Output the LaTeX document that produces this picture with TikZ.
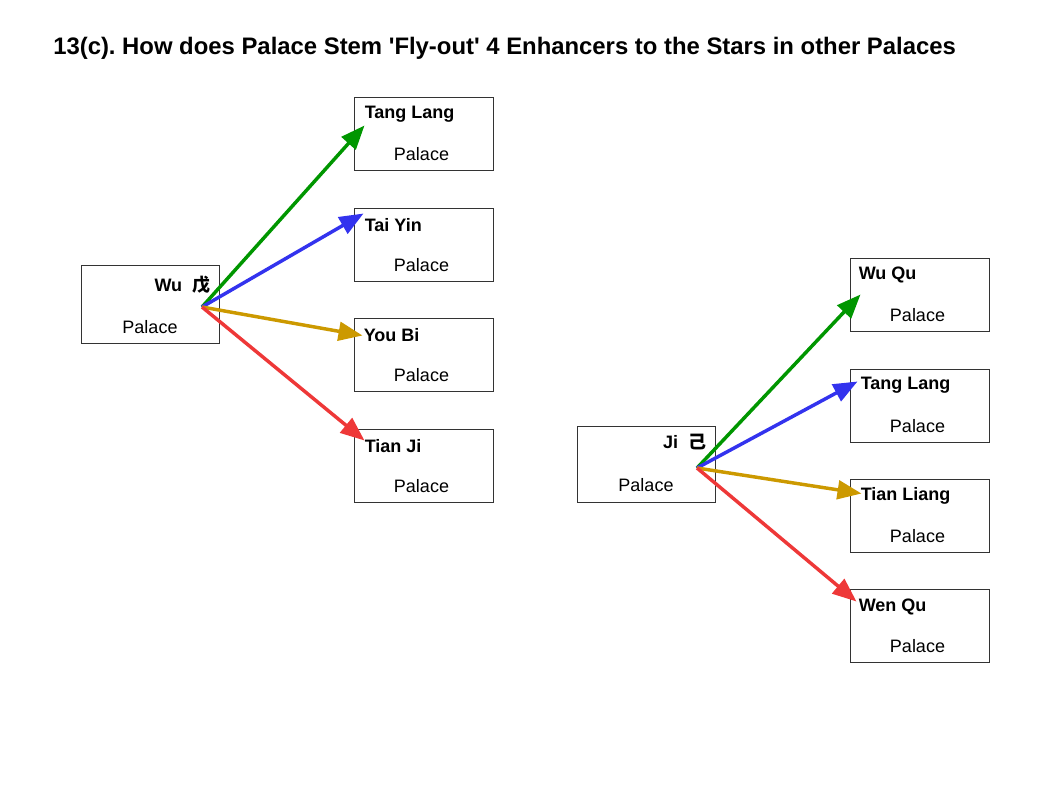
\documentclass[tikz,border=0pt]{standalone}
\usepackage{fontspec}
\setmainfont{Liberation Sans}
\newfontfamily\cjk{Noto Sans CJK SC}
\usetikzlibrary{arrows.meta,calc}
\definecolor{flygreen}{RGB}{0,150,0}
\definecolor{flyblue}{RGB}{51,51,238}
\definecolor{flygold}{RGB}{204,153,0}
\definecolor{flyred}{RGB}{238,56,56}
\frenchspacing
\begin{document}
\begin{tikzpicture}[x=0.75pt,y=-0.75pt,
    palace/.style={draw=black!80,line width=0.75pt,minimum width=104.25pt,minimum height=54.75pt,inner sep=0pt},
    stem/.style={draw=black!80,line width=0.75pt,minimum width=103.5pt,inner sep=0pt},
    star/.style={anchor=west,inner sep=0pt,font=\bfseries\fontsize{13.5}{16}\selectfont},
    stemname/.style={anchor=east,inner sep=0pt,font=\bfseries\fontsize{13.5}{16}\selectfont},
    where/.style={inner sep=0pt,font=\fontsize{13.5}{16}\selectfont},
    fly/.style={line width=2.6pt,-{Triangle[length=18pt,width=14pt]}}]
\useasboundingbox (0,0) rectangle (1058,794);
\node[anchor=west,inner sep=0pt,font=\bfseries\fontsize{17.9}{21}\selectfont] (title) at (53,48)
  {13(c). How does Palace Stem \textquotesingle Fly-out\textquotesingle\ 4 Enhancers to the Stars in other Palaces};
% left stem
\node[stem,minimum height=58.5pt] (wu) at (150,304) {};
\node[stemname] (wu-name) at ($(wu.north east)+(-9,20)$) {Wu\ \ {\cjk 戊}};
\node[where] (wu-pal) at ($(wu.south)+(0,-16)$) {Palace};
\coordinate (wu-out) at (202,307);
% left stars
\node[palace] (tanglang1) at (423.5,133.5) {};
\node[star] (tanglang1-name) at ($(tanglang1.north west)+(11,18)$) {Tang Lang};
\node[where] (tanglang1-pal) at ($(tanglang1.south)+(-2,-16)$) {Palace};
\node[palace] (taiyin) at (423.5,244.5) {};
\node[star] (taiyin-name) at ($(taiyin.north west)+(11,18)$) {Tai Yin};
\node[where] (taiyin-pal) at ($(taiyin.south)+(-2,-16)$) {Palace};
\node[palace] (youbi) at (423.5,354.5) {};
\node[star] (youbi-name) at ($(youbi.north west)+(10,18)$) {You Bi};
\node[where] (youbi-pal) at ($(youbi.south)+(-2,-16)$) {Palace};
\node[palace] (tianji) at (423.5,465.5) {};
\node[star] (tianji-name) at ($(tianji.north west)+(11,18)$) {Tian Ji};
\node[where] (tianji-pal) at ($(tianji.south)+(-2,-16)$) {Palace};
\draw[fly,flygreen] (wu-out) -- ($(tanglang1.north west)+(11,29)$);
\draw[fly,flyblue] (wu-out) -- ($(taiyin.north west)+(10,6)$);
\draw[fly,flygold] (wu-out) -- ($(youbi.north west)+(9,18)$);
\draw[fly,flyred] (wu-out) -- ($(tianji.north west)+(11,12)$);
% right stem
\node[stem,minimum height=57pt] (ji) at (646,464) {};
\node[stemname] (ji-name) at ($(ji.north east)+(-9,17)$) {Ji\ \ {\cjk 己}};
\node[where] (ji-pal) at ($(ji.south)+(0,-17)$) {Palace};
\coordinate (ji-out) at (697,468);
% right stars
\node[palace] (wuqu) at (919.5,294.5) {};
\node[star] (wuqu-name) at ($(wuqu.north west)+(9,17)$) {Wu Qu};
\node[where] (wuqu-pal) at ($(wuqu.south)+(-2,-16)$) {Palace};
\node[palace] (tanglang2) at (919.5,405.5) {};
\node[star] (tanglang2-name) at ($(tanglang2.north west)+(11,17)$) {Tang Lang};
\node[where] (tanglang2-pal) at ($(tanglang2.south)+(-2,-16)$) {Palace};
\node[palace] (tianliang) at (919.5,515.5) {};
\node[star] (tianliang-name) at ($(tianliang.north west)+(11,17)$) {Tian Liang};
\node[where] (tianliang-pal) at ($(tianliang.south)+(-2,-16)$) {Palace};
\node[palace] (wenqu) at (919.5,625.5) {};
\node[star] (wenqu-name) at ($(wenqu.north west)+(9,18)$) {Wen Qu};
\node[where] (wenqu-pal) at ($(wenqu.south)+(-2,-16)$) {Palace};
\draw[fly,flygreen] (ji-out) -- ($(wuqu.north west)+(11,37)$);
\draw[fly,flyblue] (ji-out) -- ($(tanglang2.north west)+(8,13)$);
\draw[fly,flygold] (ji-out) -- ($(tianliang.north west)+(12,15)$);
\draw[fly,flyred] (ji-out) -- ($(wenqu.north west)+(7,13)$);
\end{tikzpicture}
\end{document}
